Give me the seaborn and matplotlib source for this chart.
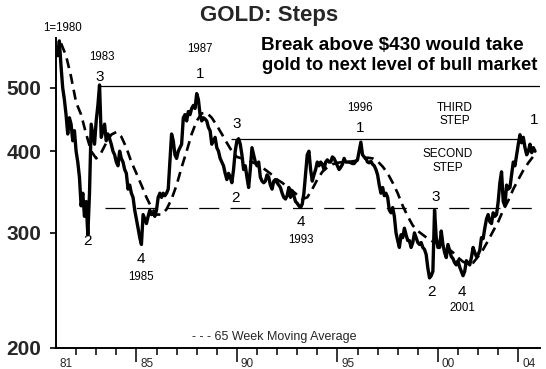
import numpy as np
import pandas as pd
import matplotlib
matplotlib.use("Agg")
import matplotlib.pyplot as plt
import seaborn as sns
from matplotlib.transforms import ScaledTranslation

sns.set_style("ticks")
plt.rcParams['font.family'] = ['Liberation Sans', 'DejaVu Sans']

# monthly gold price (USD/oz)
p1981 = [560, 590, 540, 500, 480, 455, 425, 450, 440, 415, 430, 400]
p1982 = [385, 365, 330, 345, 318, 335, 298, 345, 440, 425, 410, 445]
p1983 = [470, 505, 420, 430, 440, 415, 425, 418, 410, 400, 395, 385]
p1984 = [380, 400, 390, 385, 375, 370, 350, 355, 345, 340, 325, 315]
p1985 = [305, 295, 288, 320, 315, 310, 318, 325, 320, 322, 318, 325]
p1986 = [340, 345, 340, 345, 342, 345, 350, 385, 425, 415, 395, 390]
p1987 = [400, 405, 410, 450, 455, 445, 460, 455, 465, 470, 465, 490]
p1988 = [480, 455, 445, 450, 448, 445, 435, 430, 410, 415, 420, 405]
p1989 = [400, 390, 385, 380, 370, 362, 370, 365, 358, 375, 400, 415]
p1990 = [418, 410, 395, 375, 380, 365, 352, 375, 405, 395, 385, 380]
p1991 = [385, 365, 360, 358, 360, 368, 365, 355, 350, 360, 362, 358]
p1992 = [355, 352, 345, 340, 338, 342, 352, 340, 348, 342, 335, 333]
p1993 = [330, 328, 332, 345, 370, 395, 400, 375, 360, 368, 375, 385]
p1994 = [380, 385, 382, 375, 385, 388, 385, 385, 392, 390, 385, 380]
p1995 = [375, 378, 382, 390, 385, 385, 385, 384, 383, 383, 386, 388]
p1996 = [400, 413, 395, 392, 390, 385, 384, 386, 382, 380, 375, 368]
p1997 = [355, 345, 352, 342, 345, 340, 325, 322, 328, 318, 300, 292]
p1998 = [285, 298, 295, 305, 298, 292, 292, 285, 290, 300, 295, 290]
p1999 = [288, 290, 285, 283, 278, 265, 256, 258, 262, 325, 295, 285]
p2000 = [285, 302, 288, 280, 275, 288, 282, 276, 274, 270, 268, 272]
p2001 = [266, 262, 258, 262, 272, 270, 268, 275, 285, 280, 276, 278]
p2002 = [282, 295, 294, 305, 315, 320, 312, 310, 322, 318, 320, 335]
p2003 = [358, 372, 335, 330, 355, 350, 352, 368, 385, 380, 395, 410]
p2004 = [424, 412, 420, 405, 395, 400, 410, 398, 405, 400]

# 65 week moving average, quarterly readings from 1981.25
ma_vals = [585, 560, 520, 475, 455, 425, 400, 390, 398, 412, 424, 428,
           421, 405, 385, 370, 355, 340, 328, 320, 320, 326, 338, 355,
           378, 400, 425, 445, 457, 458, 450, 438, 425, 412, 400, 392,
           390, 387, 385, 382, 378, 373, 368, 362, 358, 353, 348, 343,
           338, 340, 350, 362, 372, 378, 382, 384, 385, 385, 386, 387,
           389, 391, 390, 386, 379, 370, 358, 345, 330, 318, 308, 302,
           298, 294, 291, 289, 287, 284, 280, 275, 271, 269, 270, 276,
           283, 292, 302, 312, 325, 336, 350, 362, 374, 384, 393]

# levels of the "steps"
top_level = 503
third_level = 418
second_level = 328

x_labels = ['81', '85', '90', '95', '00', '04']
x_major = [1981, 1985, 1990, 1995, 2000, 2004]
y_ticks = [200, 300, 400, 500]

price = np.concatenate([p1981, p1982, p1983, p1984, p1985, p1986, p1987, p1988,
                        p1989, p1990, p1991, p1992, p1993, p1994, p1995, p1996,
                        p1997, p1998, p1999, p2000, p2001, p2002, p2003, p2004])
df = pd.DataFrame({'year': 1981 + np.arange(1, len(price) + 1) / 12, 'price': price})
ma = pd.DataFrame({'year': 1981.25 + 0.25 * np.arange(len(ma_vals)), 'ma': ma_vals})

W, H = 546, 369
fig = plt.figure(figsize=(W / 100, H / 100), dpi=100)
ax = fig.add_axes([56 / W, 21 / H, 484 / W, 310 / H])

sns.lineplot(data=df, x='year', y='price', ax=ax, color='black', lw=2.4, estimator=None)
sns.lineplot(data=ma, x='year', y='ma', ax=ax, color='black', lw=1.9,
             linestyle=(0, (3.8, 2.3)), estimator=None)

x_end = 1981 + 484 / 20.1
ax.hlines(top_level, 1983.2, x_end, color='black', lw=0.9)
ax.hlines(third_level, 1989.7, 2004.1, color='black', lw=0.9)
ax.hlines(second_level, 1983.45, x_end, color='black', lw=0.9, linestyle=(0, (16, 9)))

ax.set_yscale('log')
ax.set_ylim(200, 596)
ax.set_xlim(1981, x_end)
ax.set_yticks(y_ticks)
ax.set_yticklabels([str(v) for v in y_ticks], fontsize=15, fontweight='bold')
ax.yaxis.set_minor_locator(matplotlib.ticker.NullLocator())
ax.tick_params(axis='y', length=4.5, width=1.2, pad=6, color='black')

ax.set_xticks(x_major)
ax.set_xticks(np.arange(1982, 2005), minor=True)
ax.set_xticklabels(x_labels, fontsize=8.5, ha='left')
ax.tick_params(axis='x', which='major', length=10, width=1.1, pad=-3, color='black')
ax.tick_params(axis='x', which='minor', length=5, width=1.1, color='black')
ax.xaxis.get_major_ticks()[0].tick1line.set_visible(False)
off = ScaledTranslation(4 / 100, 0, fig.dpi_scale_trans)
for lab in ax.get_xticklabels():
    lab.set_transform(lab.get_transform() + off)

ax.set_xlabel('')
ax.set_ylabel('')
for s in ['top', 'right']:
    ax.spines[s].set_visible(False)
for s in ['left', 'bottom']:
    ax.spines[s].set_linewidth(1.4)
    ax.spines[s].set_color('black')


def put(px, py, s, size, weight='normal'):
    fig.text(px / W, 1 - py / H, s, fontsize=size, fontweight=weight,
             ha='center', va='center', color='black')


fig.text(269 / W, 1 - 16 / H, 'GOLD: Steps', fontsize=16, fontweight='bold',
         ha='center', va='center')
put(392, 46, 'Break above $430 would take', 13.6, 'bold')
put(400, 66, 'gold to next level of bull market', 13.2, 'bold')

put(63, 28, '1=1980', 8.3)
put(102, 57, '1983', 8.3)
put(100, 77, '3', 11)
put(200, 49, '1987', 8.3)
put(200, 74, '1', 11)
put(237, 124, '3', 11)
put(235, 198, '2', 11)
put(88, 241, '2', 11)
put(141, 259, '4', 11)
put(141, 277, '1985', 8.3)
put(301, 222, '4', 11)
put(301, 240, '1993', 8.3)
put(360, 108, '1996', 8.3)
put(360, 128, '1', 11)
put(455, 108, 'THIRD', 8.5)
put(455, 121, 'STEP', 8.5)
put(448, 154, 'SECOND', 8.5)
put(448, 168, 'STEP', 8.5)
put(436, 197, '3', 11)
put(432, 292, '2', 11)
put(462, 292, '4', 11)
put(462, 308, '2001', 8.3)
put(534, 120, '1', 11)
fig.text(192 / W, 1 - 337 / H, '- - - 65 Week Moving Average', fontsize=9,
         ha='left', va='center')

fig.savefig('out.png', dpi=100)
